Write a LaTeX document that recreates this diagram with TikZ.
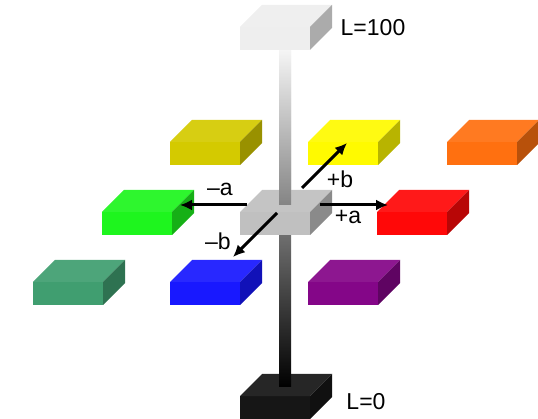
\documentclass[tikz,border=0pt]{standalone}
\usepackage{fontspec}
\setmainfont{Liberation Sans}
\usetikzlibrary{arrows.meta}

\definecolor{olive}{RGB}{212,202,0}
\definecolor{yell}{RGB}{255,250,0}
\definecolor{orng}{RGB}{255,112,16}
\definecolor{grn}{RGB}{30,245,30}
\definecolor{rd}{RGB}{255,8,8}
\definecolor{teal}{RGB}{64,158,112}
\definecolor{blu}{RGB}{24,24,255}
\definecolor{purp}{RGB}{132,6,136}
\definecolor{mid}{RGB}{192,192,192}
\definecolor{wht}{RGB}{238,238,238}
\definecolor{blk}{RGB}{22,22,22}

% slab: name, front lower left corner, colour
\newcommand{\slab}[3]{%
  \coordinate (#1) at (#2);
  \begin{scope}[shift={(#2)}]
    \fill[#3] (0,0) rectangle (70,-23);
    \fill[#3!93!white] (0,-23) -- (22,-45) -- (92,-45) -- (70,-23) -- cycle;
    \fill[#3!72!black] (70,0) -- (70,-23) -- (92,-45) -- (92,-22) -- cycle;
  \end{scope}}

\begin{document}
\begin{tikzpicture}[x=1pt,y=-1pt,font=\fontsize{23}{26}\selectfont]
  \useasboundingbox (0,0) rectangle (538,419);

  % lightness axis
  \slab{black}{240,419}{blk}
  \shade[top color=gray!8, bottom color=black] (279,50) rectangle (291,387);
  \slab{gray}{240,235}{mid}
  \begin{scope}
    \clip (279,50) rectangle (291,205);
    \shade[top color=gray!8, bottom color=black] (279,50) rectangle (291,387);
  \end{scope}
  \slab{white}{240,50}{wht}

  % colour slabs
  \slab{olive}{170,165}{olive}
  \slab{yellow}{308,165}{yell}
  \slab{orange}{447,165}{orng}
  \slab{green}{102,235}{grn}
  \slab{red}{377,235}{rd}
  \slab{teal}{33,305}{teal}
  \slab{blue}{170,305}{blu}
  \slab{purple}{308,305}{purp}

  \node (l100) at (373,28) {L=100};
  \node (l0) at (366,402) {L=0};

  \coordinate (gray-w) at (247,205);
  \coordinate (gray-e) at (320,205);
  \coordinate (gray-n) at (302,188);
  \coordinate (gray-s) at (277,213);
  \coordinate (green-e) at (180,205);
  \coordinate (red-w) at (388,205);
  \coordinate (yellow-s) at (347,143);
  \coordinate (blue-n) at (233,257);

  \draw[line width=3pt,-{Latex[length=12pt,width=11pt]}] (gray-w) -- (green-e);
  \draw[line width=3pt,-{Latex[length=12pt,width=11pt]}] (gray-e) -- (red-w);
  \draw[line width=3pt,-{Latex[length=12pt,width=11pt]}] (gray-n) -- (yellow-s);
  \draw[line width=3pt,-{Latex[length=12pt,width=11pt]}] (gray-s) -- (blue-n);

  \node (ma) at (220,189) {–a};
  \node (pa) at (348,217) {+a};
  \node (pb) at (340,179) {+b};
  \node (mb) at (218,241) {–b};
\end{tikzpicture}
\end{document}
